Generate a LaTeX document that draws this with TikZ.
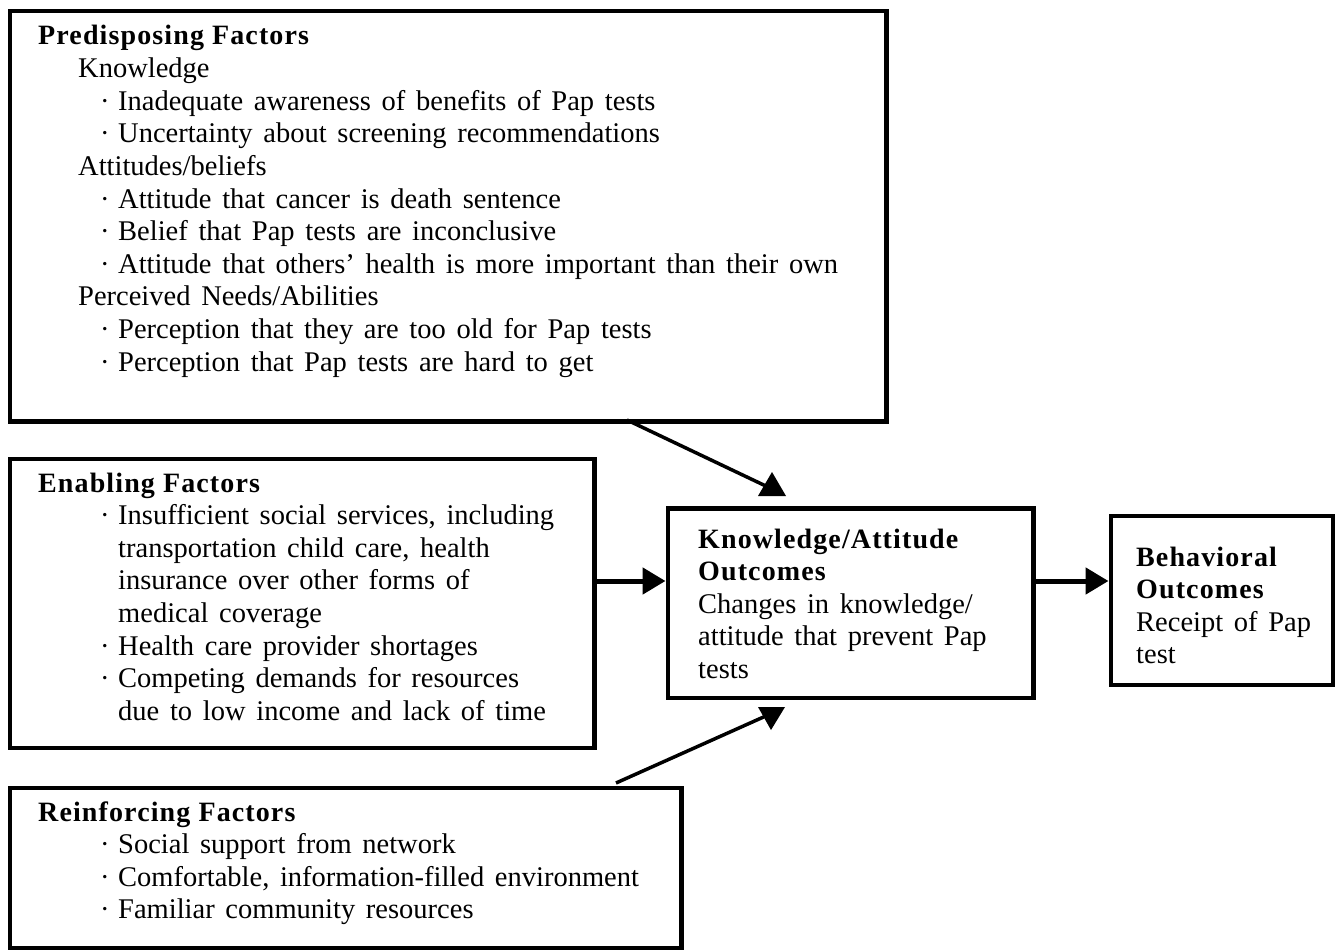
\documentclass[tikz,border=0pt]{standalone}
\usepackage{fontspec}
\setmainfont[WordSpace=1.5]{Liberation Serif}
\newfontfamily\hdfont[LetterSpace=4]{Liberation Serif}
\usetikzlibrary{arrows.meta}
\newcommand\mybul{\makebox[18pt][l]{·}}
\begin{document}
\begin{tikzpicture}[x=1pt,y=-1pt,
  box/.style={draw, line width=4.5pt, inner sep=0pt, anchor=north west},
  txt/.style={anchor=base west, inner sep=0pt, font=\fontsize{28.5}{32}\selectfont},
  hd/.style={anchor=base west, inner sep=0pt, font=\fontsize{28}{32}\selectfont\hdfont\bfseries},
  diag/.style={line width=3.5pt},
  harrow/.style={line width=5pt, -{Triangle[length=23pt,width=26pt]}},
  tri/.style={fill=black}
]
\useasboundingbox (0,0) rectangle (1339,950);
\fill[white] (0,0) rectangle (1339,950);

% boxes
\node[box, minimum width=876.5pt, minimum height=410pt] (pred) at (7.5,9) {};
\node[box, minimum width=584.5pt, minimum height=289pt] (enab) at (7.5,456.5) {};
\node[box, minimum width=671.5pt, minimum height=160.5pt] (reinf) at (7.5,785.5) {};
\node[box, minimum width=365.5pt, minimum height=189.5pt] (ka) at (665.5,506) {};
\node[box, minimum width=222pt, minimum height=169pt] (beh) at (1108.5,513.5) {};

% Predisposing text
\node[hd]  (pt0)  at (38,45)    {Predisposing Factors};
\node[txt] (pt1)  at (78,77.6)  {Knowledge};
\node[txt] (pt2)  at (100,110.2) {\mybul Inadequate awareness of benefits of Pap tests};
\node[txt] (pt3)  at (100,142.8) {\mybul Uncertainty about screening recommendations};
\node[txt] (pt4)  at (78,175.4) {Attitudes/beliefs};
\node[txt] (pt5)  at (100,208)   {\mybul Attitude that cancer is death sentence};
\node[txt] (pt6)  at (100,240.6) {\mybul Belief that Pap tests are inconclusive};
\node[txt] (pt7)  at (100,273.2) {\mybul Attitude that others’ health is more important than their own};
\node[txt] (pt8)  at (78,305.8) {Perceived Needs/Abilities};
\node[txt] (pt9)  at (100,338.4) {\mybul Perception that they are too old for Pap tests};
\node[txt] (pt10) at (100,371)   {\mybul Perception that Pap tests are hard to get};

% Enabling text
\node[hd]  (et0) at (38,492)    {Enabling Factors};
\node[txt] (et1) at (100,524.6) {\mybul Insufficient social services, including};
\node[txt] (et2) at (118,557.2) {transportation child care, health};
\node[txt] (et3) at (118,589.8) {insurance over other forms of};
\node[txt] (et4) at (118,622.4) {medical coverage};
\node[txt] (et5) at (100,655)   {\mybul Health care provider shortages};
\node[txt] (et6) at (100,687.6) {\mybul Competing demands for resources};
\node[txt] (et7) at (118,720.2) {due to low income and lack of time};

% Reinforcing text
\node[hd]  (rt0) at (38,821)    {Reinforcing Factors};
\node[txt] (rt1) at (100,853.6) {\mybul Social support from network};
\node[txt] (rt2) at (100,886.2) {\mybul Comfortable, information-filled environment};
\node[txt] (rt3) at (100,918.8) {\mybul Familiar community resources};

% Knowledge/Attitude text
\node[hd]  (kt0) at (698,548)   {Knowledge/Attitude};
\node[hd]  (kt1) at (698,580.6) {Outcomes};
\node[txt] (kt2) at (698,613.2) {Changes in knowledge/};
\node[txt] (kt3) at (698,645.8) {attitude that prevent Pap};
\node[txt] (kt4) at (698,678.4) {tests};

% Behavioral text
\node[hd]  (bt0) at (1136,566)   {Behavioral};
\node[hd]  (bt1) at (1136,598.6) {Outcomes};
\node[txt] (bt2) at (1136,631.2) {Receipt of Pap};
\node[txt] (bt3) at (1136,663.8) {test};

% connectors
\coordinate (ya) at (0,581);
\draw[harrow] (enab.east |- ya) -- (ka.west |- ya);
\draw[harrow] (ka.east |- ya) -- (beh.west |- ya);

\coordinate (p1) at (627,420);
\coordinate (p2) at (770,488);
\draw[diag] (p1) -- (p2);
\fill[tri] (772,472) -- (786,496) -- (758,496) -- cycle;

\coordinate (r1) at (616,783);
\coordinate (r2) at (768,715);
\draw[diag] (r1) -- (r2);
\fill[tri] (758,707) -- (785,707) -- (771,730) -- cycle;
\end{tikzpicture}
\end{document}
